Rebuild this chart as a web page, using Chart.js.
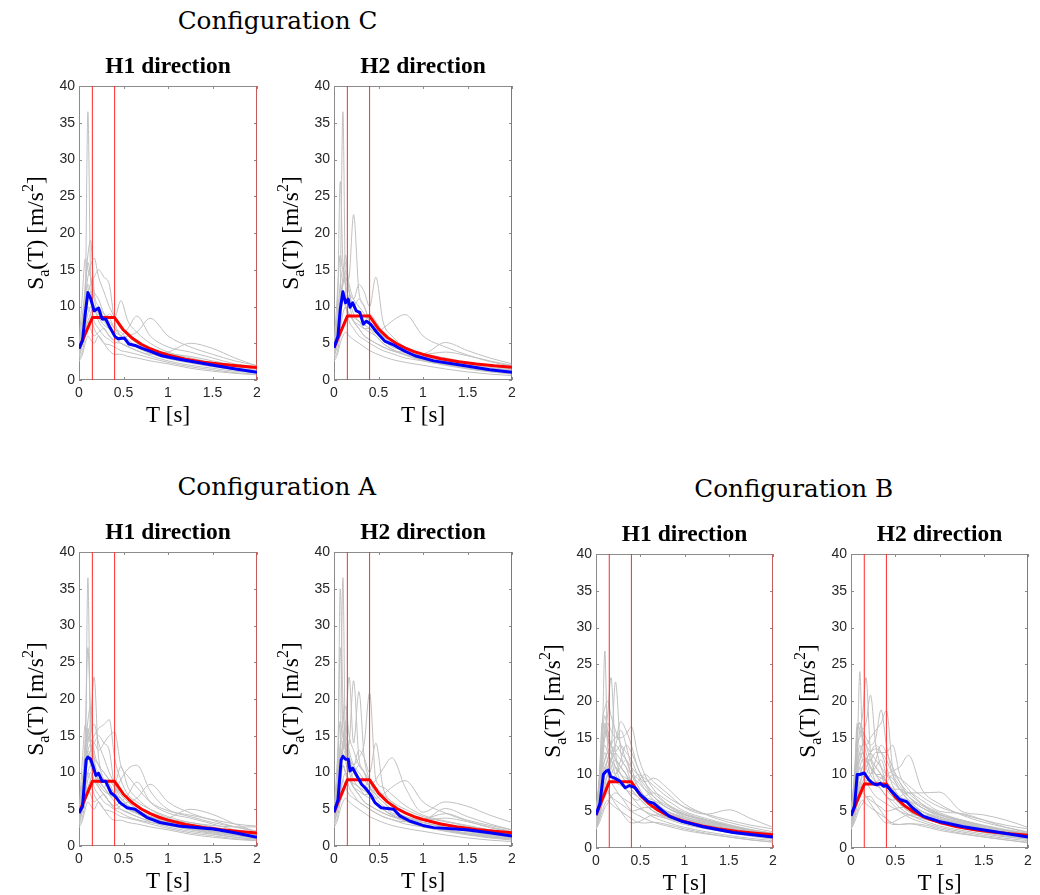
<!DOCTYPE html>
<html><head><meta charset="utf-8">
<script src="https://cdn.jsdelivr.net/npm/chart.js@4.4.1/dist/chart.umd.min.js"></script>
<style>
html,body{margin:0;padding:0;background:#fff;}
body{width:1040px;height:895px;position:relative;overflow:hidden;}
canvas{position:absolute;}
.cfg{position:absolute;font-family:"DejaVu Serif";font-size:24.7px;line-height:24.7px;white-space:nowrap;transform:translateX(-50%);color:#000;}
</style></head><body>
<div class="cfg" style="left:277.5px;top:9.1px">Configuration C</div>
<div class="cfg" style="left:276.7px;top:475.1px">Configuration A</div>
<div class="cfg" style="left:793.8px;top:477.1px">Configuration B</div>
<script>
// ---------- axes ----------
const xTicks = [0, 0.5, 1, 1.5, 2];
const yTicks = [0, 5, 10, 15, 20, 25, 30, 35, 40];
const xLabel = 'T [s]';
const yLabelParts = [['S', 0], ['a', -1], ['(T) [m/s', 0], ['2', 1], [']', 0]];
const vLines = [0.15, 0.4, 2];

// ---------- periods of the record spectra ----------
const G = [0, 0.04, 0.07, 0.1, 0.13, 0.17, 0.22, 0.28, 0.34, 0.4, 0.47, 0.55, 0.65, 0.8, 1.0, 1.25, 1.5, 1.75, 2.0];

// ---------- design spectra (red) ----------
const redT = [0, 0.15, 0.4, 0.5, 0.6, 0.7, 0.8, 0.9, 1.0, 1.2, 1.4, 1.6, 1.8, 2.0];
const redCH1 = [4.3, 8.5, 8.5, 6.8, 5.67, 4.86, 4.25, 3.78, 3.4, 2.83, 2.43, 2.13, 1.89, 1.7];
const redCH2 = [4.4, 8.7, 8.7, 6.96, 5.8, 4.97, 4.35, 3.87, 3.48, 2.9, 2.49, 2.18, 1.93, 1.74];
const redAH1 = [4.5, 8.8, 8.8, 7.04, 5.87, 5.03, 4.4, 3.91, 3.52, 2.93, 2.51, 2.2, 1.96, 1.76];
const redAH2 = [4.6, 9.0, 9.0, 7.2, 6.0, 5.14, 4.5, 4.0, 3.6, 3.0, 2.57, 2.25, 2.0, 1.8];
const redBH1 = [4.5, 9.0, 9.0, 7.2, 6.0, 5.14, 4.5, 4.0, 3.6, 3.0, 2.57, 2.25, 2.0, 1.8];
const redBH2 = [4.4, 8.7, 8.7, 6.96, 5.8, 4.97, 4.35, 3.87, 3.48, 2.9, 2.49, 2.18, 1.93, 1.74];

// ---------- mean spectra (blue) ----------
const blueT_CH1 = [0, 0.04, 0.07, 0.1, 0.13, 0.17, 0.22, 0.26, 0.3, 0.35, 0.405, 0.44, 0.51, 0.56, 0.63, 0.71, 0.78, 0.93, 1.14, 1.51, 1.76, 2.0];
const blueY_CH1 = [4.3, 5.4, 9.0, 11.9, 11.1, 9.4, 9.8, 8.3, 8.3, 7.1, 5.9, 5.6, 5.7, 4.9, 4.7, 4.3, 4.0, 3.3, 2.8, 2.0, 1.5, 1.05];
const blueT_CH2 = [0, 0.045, 0.07, 0.1, 0.13, 0.16, 0.18, 0.21, 0.25, 0.29, 0.33, 0.365, 0.41, 0.48, 0.57, 0.68, 0.8, 0.91, 1.12, 1.49, 1.75, 2.0];
const blueY_CH2 = [4.4, 6.0, 9.6, 12.0, 10.5, 11.0, 9.9, 10.5, 9.4, 9.2, 7.6, 8.0, 7.6, 6.5, 5.3, 4.7, 3.9, 3.3, 2.6, 1.9, 1.4, 1.05];
const blueT_AH1 = [0, 0.04, 0.08, 0.1, 0.13, 0.16, 0.19, 0.22, 0.26, 0.3, 0.36, 0.405, 0.46, 0.54, 0.63, 0.69, 0.76, 0.91, 1.14, 1.51, 1.75, 2.0];
const blueY_AH1 = [4.5, 5.4, 11.7, 12.1, 11.8, 10.8, 9.6, 9.9, 8.8, 8.8, 7.2, 6.8, 5.9, 5.2, 5.0, 4.5, 3.9, 3.2, 2.7, 2.3, 1.8, 1.2];
const blueT_AH2 = [0, 0.045, 0.08, 0.1, 0.13, 0.16, 0.18, 0.21, 0.26, 0.31, 0.365, 0.41, 0.46, 0.53, 0.67, 0.74, 0.85, 1.0, 1.12, 1.49, 1.75, 2.0];
const blueY_AH2 = [4.6, 6.3, 11.7, 12.2, 11.8, 11.8, 10.2, 10.6, 9.5, 8.4, 7.7, 7.0, 5.9, 5.2, 5.0, 4.1, 3.4, 2.8, 2.5, 2.2, 1.8, 1.35];
const blueT_BH1 = [0, 0.045, 0.083, 0.11, 0.14, 0.165, 0.21, 0.27, 0.33, 0.38, 0.44, 0.5, 0.59, 0.65, 0.74, 0.83, 0.98, 1.21, 1.55, 2.0];
const blueY_BH1 = [4.5, 6.1, 10.0, 10.4, 10.6, 9.7, 9.5, 9.1, 8.2, 8.5, 8.2, 7.25, 6.3, 6.1, 5.2, 4.3, 3.6, 2.9, 2.1, 1.5];
const blueT_BH2 = [0, 0.04, 0.07, 0.1, 0.15, 0.2, 0.245, 0.29, 0.33, 0.37, 0.4, 0.46, 0.55, 0.63, 0.7, 0.82, 1.0, 1.27, 1.61, 2.0];
const blueY_BH2 = [4.4, 5.7, 10.0, 10.0, 10.2, 9.3, 8.8, 8.6, 8.8, 8.4, 8.5, 7.7, 6.6, 6.3, 5.4, 4.3, 3.6, 2.9, 2.25, 1.5];

// ---------- record spectra (grey), sampled at G ----------
const grayCH1 = [
 [3.5, 6, 10, 36.5, 14, 10, 8, 7, 6, 5.2, 5, 4.6, 4, 3.3, 2.6, 2, 1.6, 1.2, 1.0],
 [4.2, 8, 13, 17, 19, 12, 10, 9, 8.5, 7, 6, 5, 4.4, 3.6, 2.9, 2.3, 1.8, 1.4, 1.1],
 [4.5, 12, 16.5, 15, 14, 12, 11, 9, 8, 7, 6.5, 5.5, 4.6, 3.8, 3.0, 2.5, 2.0, 1.6, 1.3],
 [4, 6, 9, 12, 13, 14, 15, 14, 13, 8, 6, 5, 4.5, 3.8, 3.2, 2.6, 2.0, 1.6, 1.3],
 [3.8, 7, 11, 14, 15.5, 16.6, 14, 12, 10, 8.5, 7, 6, 5, 4, 3.3, 2.8, 2.3, 1.8, 1.5],
 [3, 5, 7, 8, 9, 10, 9, 8, 9, 8.5, 10.8, 8, 6.5, 5, 3.8, 3, 2.4, 1.9, 1.6],
 [2.8, 4, 6, 8, 7, 6, 6.5, 7, 6, 5.5, 6, 7, 8.7, 6, 4.5, 3.8, 3, 2.2, 1.8],
 [3.2, 5, 7, 9, 10, 8, 7, 6, 5.5, 5, 5.5, 6, 6.5, 8.4, 6, 4.5, 3.5, 2.6, 2.0],
 [4.6, 9, 12, 16, 14, 11, 9, 8, 7, 6, 5, 4.5, 4, 3.5, 3.8, 5.0, 4.3, 3.0, 1.9],
 [2.5, 3.5, 5, 6, 5.5, 5, 6, 5, 4, 3.5, 3.5, 3.2, 3, 2.6, 2.2, 1.6, 1.2, 0.9, 0.7],
 [3.6, 6, 8, 10, 9, 7, 6, 5, 4.8, 4.5, 4, 3.8, 3.5, 3, 2.4, 1.8, 1.4, 1.0, 0.8],
 [4.0, 7, 10, 13, 12, 10, 8.5, 7.5, 7, 6.5, 6, 5.2, 4.5, 4, 3.6, 3.2, 2.6, 2.0, 1.5]
];
const grayCH2 = [
 [3.5, 6, 12, 36.5, 12, 10, 8, 7, 6, 5.5, 5, 4.5, 4, 3.4, 2.6, 2.1, 1.6, 1.2, 1.0],
 [4.0, 10, 27, 16, 13, 11, 9, 8, 7, 6.5, 6, 5, 4.2, 3.5, 2.8, 2.2, 1.8, 1.4, 1.1],
 [4.4, 9, 13, 15, 13, 14, 22.5, 12, 10, 8, 7, 6, 5, 4, 3.2, 2.6, 2.0, 1.5, 1.2],
 [4.5, 12, 17, 15, 16, 13, 11, 10, 9, 8, 7, 6, 5, 4, 3.2, 2.5, 2.0, 1.6, 1.3],
 [3.8, 7, 10, 13, 14, 12, 11, 13, 12, 10, 14, 8, 6, 4.5, 3.5, 2.8, 2.2, 1.7, 1.4],
 [3, 5, 7, 9, 10, 9, 8, 7.5, 7, 7, 6.5, 7, 8, 8.9, 6, 4.5, 3.4, 2.5, 1.9],
 [2.8, 4, 6, 7, 8, 9, 8, 7, 6, 5.5, 5, 4.5, 4, 3.8, 3.6, 5.1, 4, 3, 2.2],
 [3.2, 5, 8, 11, 10, 8, 7, 6, 5.5, 5, 4.5, 4, 3.6, 3, 2.6, 2, 1.5, 1.1, 0.8],
 [4.6, 8, 11, 13, 15, 12, 10, 11, 10, 8, 6.5, 5.5, 4.5, 4, 3.5, 3.8, 3.3, 2.6, 2.0],
 [2.5, 3.5, 5, 6, 6.5, 6, 5.5, 5, 4.5, 4, 3.6, 3.2, 2.8, 2.4, 2, 1.5, 1.1, 0.8, 0.6],
 [3.6, 6, 9, 11, 10, 9, 8.5, 8, 7.5, 7, 6, 5, 4.2, 3.4, 2.7, 2.1, 1.6, 1.2, 0.9],
 [4.0, 7, 11, 14, 17, 12, 10, 9, 8, 9, 8, 6.5, 5.5, 4.5, 3.6, 3, 2.4, 1.9, 1.5]
];
const grayAH1 = grayCH1.concat([
 [4.2, 9, 15, 27, 18, 13, 11, 10, 9, 8, 7, 6, 5, 4, 3.2, 2.5, 2.0, 1.5, 1.2],
 [3.9, 7, 11, 15, 17, 23, 12, 10, 9, 8, 6.5, 5.5, 4.6, 3.7, 3.0, 2.4, 1.9, 1.5, 1.2],
 [4.3, 8, 11, 13, 14, 15, 16, 16.5, 17.2, 12, 9, 7, 6, 5, 4, 3.2, 2.8, 2.6, 2.6],
 [4.1, 7, 10, 12, 13, 14, 13, 14, 15, 15.5, 11, 9.5, 8, 6, 4.8, 4, 3.2, 2.6, 2.0],
 [3.4, 6, 8, 10, 11, 10, 9, 8, 7, 7.5, 9, 10.5, 11, 7.5, 5, 4.2, 3.6, 3.0, 2.7],
 [3.0, 5, 8, 12, 11, 9, 8, 7, 6, 5, 4.5, 4, 3.6, 3.2, 2.8, 2.2, 1.7, 1.2, 0.9]
]);
const grayAH2 = grayCH2.concat([
 [3.7, 8, 35, 20, 14, 12, 10, 9, 8, 7, 6, 5, 4.3, 3.5, 2.8, 2.2, 1.7, 1.3, 1.0],
 [4.0, 7, 11, 14, 16, 23, 14, 21, 12, 9, 7, 6, 5, 4, 3.2, 2.6, 2.0, 1.6, 1.3],
 [4.3, 7, 10, 12, 13, 12, 11, 12, 14, 20.8, 9, 8, 7, 5.5, 4.2, 3.4, 2.8, 2.2, 1.8],
 [3.5, 6, 9, 11, 10, 9, 10, 9, 8, 8, 9, 10.5, 12, 8, 4.6, 6.0, 5.4, 4.2, 3.2],
 [4.1, 9, 14, 17, 19, 15, 13, 11, 10, 9, 8, 7, 6, 5, 4, 3.3, 2.7, 2.2, 1.8],
 [3.0, 5, 7, 9, 8, 7, 6.5, 6, 5.5, 5, 4.5, 4, 3.6, 3.3, 3.6, 4.4, 3.5, 2.8, 2.2]
]);
const grayBH1 = [
 [3.5, 8, 14, 26.8, 14, 12, 10, 9, 8, 7.5, 7, 6, 5, 4, 3.2, 2.6, 2.1, 1.7, 1.4],
 [4.0, 9, 13, 16, 18, 23.2, 13, 11, 10, 9, 8, 6.5, 5.5, 4.5, 3.6, 2.9, 2.3, 1.9, 1.5],
 [4.5, 10, 14, 15, 16, 14, 22.6, 13, 11, 9, 7.5, 6.5, 5.5, 4.5, 3.6, 3, 2.4, 2, 1.6],
 [4.2, 10, 17, 19, 20, 18, 16, 14, 12, 10, 8.5, 7, 6, 4.8, 3.8, 3.1, 2.5, 2.0, 1.6],
 [3.8, 7, 12, 15, 17, 16, 15, 17.2, 16, 14, 11, 9, 7, 5.5, 4.3, 3.5, 2.8, 2.2, 1.8],
 [4.4, 7, 10, 12, 13, 14, 15, 15, 15.5, 16.5, 12.8, 10, 8, 6, 4.6, 3.7, 3.0, 2.4, 2.0],
 [3.0, 5, 8, 10, 12, 13, 14, 13, 12, 11, 10, 9, 9.5, 8.2, 6, 4.5, 3.5, 2.8, 2.2],
 [2.5, 4, 6, 8, 9, 10, 11, 10, 9, 8.5, 9, 10, 9, 7.5, 5.5, 4.6, 5.2, 4, 2.8],
 [3.2, 6, 9, 11, 10, 9, 8, 7, 6.5, 6, 5.5, 5, 4.5, 4, 3.5, 3, 2.5, 2, 1.6],
 [2.7, 4, 5, 6, 6.5, 6, 5.5, 5, 4.5, 4, 3.5, 3.4, 3.5, 3.2, 2.6, 2, 1.5, 1.1, 0.8],
 [4.6, 9, 12, 14, 13, 12, 11, 10, 9.5, 9, 8, 7, 6.5, 5.5, 4.5, 3.8, 3.0, 2.4, 1.9],
 [3.6, 6, 8, 9, 10, 11, 12, 11, 10, 8, 7, 6, 5, 4.2, 3.4, 2.8, 2.2, 1.7, 1.3],
 [4.1, 8, 12, 17, 15, 13, 11, 9, 8, 7, 6, 5, 4.2, 3.5, 2.8, 2.2, 1.7, 1.3, 1.0],
 [3.3, 5, 7, 8, 8.5, 9, 10, 11, 12, 10, 9, 8, 7, 5.5, 4.5, 3.6, 2.9, 2.3, 1.9],
 [4.3, 7, 9, 10, 11, 12, 13, 14, 13, 12, 10, 8.5, 7, 5.8, 4.6, 3.8, 3.1, 2.5, 2.0],
 [2.8, 4.5, 6, 7, 7.5, 7, 6.5, 6, 5.5, 5, 5.2, 5.5, 5.5, 5, 4, 3.2, 2.6, 2, 1.5],
 [3.7, 7, 11, 13, 12, 10, 9, 8.5, 8, 7, 6.5, 7, 7.5, 6.5, 5, 4, 3.2, 2.5, 2.0],
 [3.9, 8, 15, 18, 16, 14, 12, 10, 9, 8, 7, 6, 5, 4.2, 3.4, 2.7, 2.1, 1.6, 1.2],
 [2.6, 3.5, 4.5, 5.5, 6, 7, 7.5, 7, 6, 5, 4.5, 4, 3.5, 3, 2.4, 1.9, 1.5, 1.1, 0.8],
 [4.8, 9, 11, 12, 13, 11, 10, 12, 14, 13, 11, 9, 7.5, 6, 4.8, 3.8, 3.0, 2.4, 1.9],
 [3.4, 5, 7, 9, 8, 7, 6, 5, 4, 3.4, 3.5, 4, 4.5, 4.5, 4, 3.3, 2.6, 2, 1.5],
 [4.0, 10, 17, 16, 15, 14, 13, 12, 11, 10, 9.5, 8, 6.5, 5, 4, 3.2, 2.6, 2.1, 1.7],
 [3.1, 5, 7, 8.5, 10, 12, 14, 16, 14, 11, 8.5, 7, 6, 5, 4.2, 3.4, 2.7, 2.1, 1.6],
 [4.4, 8, 10, 11, 12, 13, 12, 11, 10, 9, 10, 9.5, 8.5, 7, 5.6, 4.6, 3.8, 3.1, 2.6]
];
const grayBH2 = [
 [3.6, 8, 13, 24, 14, 12, 10, 9, 8, 7, 6.5, 5.5, 4.6, 3.8, 3.0, 2.4, 1.9, 1.5, 1.2],
 [4.0, 9, 13, 16, 18, 23.2, 13, 11, 10, 9, 8, 6.5, 5.5, 4.5, 3.6, 2.9, 2.3, 1.9, 1.5],
 [4.5, 10, 14, 15, 16, 17, 20.8, 14, 11, 9, 7.5, 6.5, 5.5, 4.5, 3.6, 3, 2.4, 2, 1.6],
 [4.2, 10, 16, 17, 16, 15, 14, 15, 18.8, 14, 10, 8, 6.5, 5, 4, 3.2, 2.6, 2.1, 1.7],
 [3.8, 7, 11, 13, 14, 14, 15, 16, 17, 18.7, 11, 9, 7, 5.5, 4.3, 3.5, 2.8, 2.2, 1.8],
 [4.4, 7, 10, 12, 13, 12, 12, 13, 13, 13, 14, 10, 8, 6, 4.6, 3.7, 3.0, 2.4, 2.0],
 [3.0, 5, 8, 10, 11, 10, 9, 9, 9.5, 10, 10.5, 11, 12.6, 8, 6, 4.5, 3.5, 2.8, 2.2],
 [2.5, 4, 6, 8, 9, 10, 11, 10, 9, 8.5, 8, 8, 7.5, 7.5, 7.6, 5, 4.5, 3.8, 2.8],
 [3.2, 6, 9, 11, 10, 9, 8, 7, 6.5, 6, 5.5, 5, 4.5, 4, 3.5, 3, 2.5, 2, 1.6],
 [2.7, 4, 5, 6, 6.5, 6, 5.5, 5, 4.5, 4, 3.4, 3.2, 3.3, 3.2, 2.6, 2, 1.5, 1.1, 0.7],
 [4.6, 9, 12, 14, 13, 12, 11, 10, 9.5, 9, 8, 7, 6.5, 5.5, 4.5, 3.8, 3.0, 2.4, 1.9],
 [3.6, 6, 8, 9, 10, 11, 12, 11, 10, 8, 7, 6, 5, 4.2, 3.4, 2.8, 2.2, 1.7, 1.3],
 [4.1, 9, 16, 17, 15, 13, 11, 9, 8, 7, 6, 5, 4.2, 3.5, 2.8, 2.2, 1.7, 1.3, 1.0],
 [3.3, 5, 7, 8, 8.5, 9, 10, 11, 12, 10, 9, 8, 7, 5.5, 4.5, 3.6, 2.9, 2.3, 1.9],
 [4.3, 7, 9, 10, 11, 12, 13, 13.5, 13, 12, 10, 8.5, 7, 5.8, 4.6, 3.8, 3.1, 2.5, 2.0],
 [2.8, 4.5, 6, 7, 7.5, 7, 6.5, 6, 5.5, 5, 5.2, 5.5, 5.5, 5, 4, 3.2, 2.6, 2, 1.5],
 [3.7, 7, 11, 13, 12, 10, 9, 8.5, 8, 7, 6.5, 7, 7.5, 6.5, 5, 4.7, 3.8, 2.8, 2.1],
 [3.9, 8, 15, 17, 16, 14, 12, 10, 9, 8, 7, 6, 5, 4.2, 3.4, 2.7, 2.1, 1.6, 1.2],
 [2.6, 3.5, 4.5, 5.5, 6, 7, 7, 6, 5, 4, 3.2, 3.2, 3.3, 3, 2.4, 1.9, 1.5, 1.1, 0.8],
 [4.8, 9, 11, 12, 13, 11, 10, 12, 14, 13, 11, 9, 7.5, 6, 4.8, 3.8, 3.0, 2.4, 1.9],
 [3.4, 5, 7, 9, 8, 7, 6, 5, 4, 3.4, 3.5, 4, 4.5, 4.5, 4, 3.3, 2.6, 2, 1.5],
 [4.0, 10, 17, 16, 15, 14, 13, 12, 11, 10, 9.5, 8, 6.5, 5, 4, 3.2, 2.6, 2.1, 1.7],
 [3.1, 5, 7, 8.5, 10, 12, 13, 14, 13, 11, 8.5, 7, 6, 5, 4.2, 3.4, 2.7, 2.1, 1.6],
 [4.4, 8, 10, 11, 12, 12, 11, 10, 10, 9, 10, 9.5, 8.5, 7, 5.6, 4.6, 3.8, 3.1, 2.6]
];

// ---------- panels (layout: plot-area box in page pixels) ----------
const panels = [
  {title: 'H1 direction', box: [79, 86, 257, 380],  gray: grayCH1, bT: blueT_CH1, bY: blueY_CH1, red: redCH1},
  {title: 'H2 direction', box: [334, 86, 512, 380], gray: grayCH2, bT: blueT_CH2, bY: blueY_CH2, red: redCH2},
  {title: 'H1 direction', box: [79, 552, 257, 846], gray: grayAH1, bT: blueT_AH1, bY: blueY_AH1, red: redAH1},
  {title: 'H2 direction', box: [334, 552, 512, 846], gray: grayAH2, bT: blueT_AH2, bY: blueY_AH2, red: redAH2},
  {title: 'H1 direction', box: [596, 554, 773, 848], gray: grayBH1, bT: blueT_BH1, bY: blueY_BH1, red: redBH1},
  {title: 'H2 direction', box: [851, 554, 1028, 848], gray: grayBH2, bT: blueT_BH2, bY: blueY_BH2, red: redBH2}
];

const framePlugin = {
  id: 'frame',
  beforeDatasetsDraw(chart) {
    const {ctx, chartArea: a, scales: {x, y}} = chart;
    ctx.save();
    ctx.strokeStyle = '#8c8c8c';
    ctx.lineWidth = 1;
    ctx.strokeRect(a.left + 0.5, a.top + 0.5, a.right - a.left - 1, a.bottom - a.top - 1);
    ctx.beginPath();
    yTicks.forEach(v => {
      const py = Math.round(y.getPixelForValue(v)) + 0.5;
      ctx.moveTo(a.left, py); ctx.lineTo(a.left + 3, py);
      ctx.moveTo(a.right - 3, py); ctx.lineTo(a.right, py);
    });
    xTicks.forEach(v => {
      const px = Math.round(x.getPixelForValue(v)) + 0.5;
      ctx.moveTo(px, a.bottom); ctx.lineTo(px, a.bottom - 3);
      ctx.moveTo(px, a.top); ctx.lineTo(px, a.top + 3);
    });
    ctx.stroke();
    ctx.restore();
  },
  afterDraw(chart, args, opts) {
    const {ctx, chartArea: a} = chart;
    const cx = (a.left + a.right) / 2;
    ctx.save();
    ctx.fillStyle = '#000';
    ctx.textBaseline = 'alphabetic';
    ctx.textAlign = 'center';
    ctx.font = 'bold 23.5px "Liberation Serif"';
    ctx.fillText(opts.title, cx, a.top - 13);
    ctx.font = '23px "Liberation Serif"';
    ctx.fillText(xLabel, cx, a.bottom + 42);
    // y label with subscript / superscript
    const big = '23.5px "Liberation Serif"', small = '16px "Liberation Serif"';
    let total = 0;
    const widths = yLabelParts.map(([t, k]) => {
      ctx.font = k === 0 ? big : small;
      const w = ctx.measureText(t).width;
      total += w; return w;
    });
    ctx.translate(a.left - 36, (a.top + a.bottom) / 2);
    ctx.rotate(-Math.PI / 2);
    ctx.textAlign = 'left';
    let pos = -total / 2;
    yLabelParts.forEach(([t, k], i) => {
      ctx.font = k === 0 ? big : small;
      const dy = k === -1 ? 6 : (k === 1 ? -10 : 0);
      ctx.fillText(t, pos, dy);
      pos += widths[i];
    });
    ctx.restore();
  }
};

const L = 80, TP = 45, R = 14, B = 55;
panels.forEach(p => {
  const [l, t, r, b] = p.box;
  const W = r - l + L + R, H = b - t + TP + B;
  const cv = document.createElement('canvas');
  cv.width = W; cv.height = H;
  cv.style.left = (l - L) + 'px'; cv.style.top = (t - TP) + 'px';
  cv.style.width = W + 'px'; cv.style.height = H + 'px';
  document.body.appendChild(cv);
  const ds = [];
  ds.push({data: p.bT.map((x, i) => ({x, y: p.bY[i]})), borderColor: '#0000ff', borderWidth: 3, order: 0});
  ds.push({data: redT.map((x, i) => ({x, y: p.red[i]})), borderColor: '#ff0000', borderWidth: 3, order: 1});
  vLines.forEach(v => ds.push({data: [{x: v, y: yTicks[0]}, {x: v, y: yTicks[yTicks.length - 1]}], borderColor: '#ff2a2a', borderWidth: 1, order: 2}));
  p.gray.forEach(c => ds.push({data: G.map((x, i) => ({x, y: c[i]})), borderColor: '#c0c0c0', borderWidth: 1, cubicInterpolationMode: 'monotone', order: 3}));
  const tickFont = {family: '"Liberation Sans", Arial, sans-serif', size: 14};
  new Chart(cv, {
    type: 'line',
    data: {datasets: ds},
    options: {
      responsive: false, animation: false, devicePixelRatio: 1, events: [],
      layout: {padding: {left: 0, top: TP, right: R, bottom: 0}},
      elements: {point: {radius: 0}, line: {tension: 0, borderJoinStyle: 'round'}},
      plugins: {legend: {display: false}, tooltip: {enabled: false}, title: {display: false}, frame: {title: p.title}},
      scales: {
        x: {type: 'linear', min: xTicks[0], max: xTicks[xTicks.length - 1],
            grid: {display: false, drawTicks: false, tickLength: 0}, border: {display: false},
            afterBuildTicks: s => { s.ticks = xTicks.map(v => ({value: v})); },
            afterFit: s => { s.height = B; },
            ticks: {padding: 5, color: '#262626', font: tickFont, maxRotation: 0, autoSkip: false, callback: v => String(v)}},
        y: {type: 'linear', min: yTicks[0], max: yTicks[yTicks.length - 1],
            grid: {display: false, drawTicks: false, tickLength: 0}, border: {display: false},
            afterBuildTicks: s => { s.ticks = yTicks.map(v => ({value: v})); },
            afterFit: s => { s.width = L; },
            ticks: {padding: 4, color: '#262626', font: tickFont, autoSkip: false, callback: v => String(v)}}
      }
    },
    plugins: [framePlugin]
  });
});
</script>
</body></html>
